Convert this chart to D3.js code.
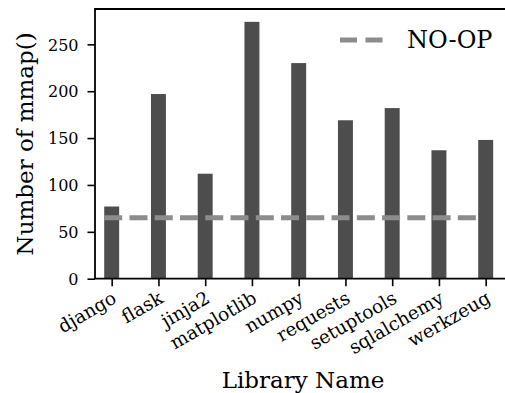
<!DOCTYPE html>
<html>
<head>
<meta charset="utf-8">
<script src="https://cdn.jsdelivr.net/npm/d3@7"></script>
<style>
  html, body { margin: 0; padding: 0; background: #fff; }
  svg { display: block; font-family: "DejaVu Serif", serif; }
</style>
</head>
<body>
<svg id="chart" width="505" height="393"></svg>
<script>
// Library names and mmap() call counts
const libraries = ["django", "flask", "jinja2", "matplotlib", "numpy", "requests", "setuptools", "sqlalchemy", "werkzeug"];
const mmapCounts = [77, 197, 112, 274, 230, 169, 182, 137, 148];
const noopBaseline = 65;
const yTicks = [0, 50, 100, 150, 200, 250];
const legendLabel = "NO-OP";

const svg = d3.select("#chart");
const plotLeft = 95, plotTop = 9, plotBottom = 278.7, plotRight = 520;

const x = d3.scaleLinear().domain([-0.357, 8.734]).range([plotLeft, plotRight]);
const y = d3.scaleLinear().domain([0, 287.7]).range([plotBottom, plotTop]);
const barWidth = x(0.32) - x(0);

// bars
svg.append("g").selectAll("rect")
  .data(mmapCounts)
  .join("rect")
  .attr("x", (d, i) => x(i) - barWidth / 2)
  .attr("y", d => y(d))
  .attr("width", barWidth)
  .attr("height", d => y(0) - y(d))
  .attr("fill", "#4d4d4d");

// NO-OP reference line
svg.append("line")
  .attr("x1", x(-0.16)).attr("x2", x(7.79))
  .attr("y1", y(noopBaseline)).attr("y2", y(noopBaseline))
  .attr("stroke", "#8c8c8c")
  .attr("stroke-width", 5)
  .attr("stroke-dasharray", "18,7.26");

// y axis
const yAxis = svg.append("g")
  .attr("transform", `translate(${plotLeft},0)`)
  .call(d3.axisLeft(y).tickValues(yTicks).tickSize(7.5).tickPadding(9));
yAxis.select(".domain").remove();
yAxis.selectAll(".tick line").attr("stroke", "#000").attr("stroke-width", 1.6);
yAxis.selectAll(".tick text")
  .attr("font-size", 16).attr("font-family", "DejaVu Serif").attr("fill", "#000")
  .attr("dy", "0.36em");

// x axis, labels rotated and right-aligned on their ticks
const xAxis = svg.append("g")
  .attr("transform", `translate(0,${plotBottom})`)
  .call(d3.axisBottom(x).tickValues(d3.range(libraries.length)).tickFormat(i => libraries[i]).tickSize(7.5));
xAxis.select(".domain").remove();
xAxis.selectAll(".tick line").attr("stroke", "#000").attr("stroke-width", 1.6);
xAxis.selectAll(".tick text")
  .attr("font-size", 18.5).attr("font-family", "DejaVu Serif").attr("fill", "#000")
  .attr("text-anchor", "end")
  .attr("dy", null)
  .attr("y", 0)
  .attr("transform", "translate(5.5,23) rotate(-30)");

// spines: left, top, bottom
svg.append("path")
  .attr("d", `M${plotRight},${plotTop}H${plotLeft}V${plotBottom}H${plotRight}`)
  .attr("fill", "none").attr("stroke", "#000").attr("stroke-width", 1.8);

// axis titles
svg.append("text")
  .attr("x", 303).attr("y", 387.5)
  .attr("text-anchor", "middle")
  .attr("font-size", 23)
  .text("Library Name");

svg.append("text")
  .attr("transform", `translate(33,${(plotTop + plotBottom) / 2}) rotate(-90)`)
  .attr("text-anchor", "middle")
  .attr("font-size", 23)
  .text("Number of mmap()");

// legend
const lg = svg.append("g").attr("transform", "translate(340,40)");
lg.append("line")
  .attr("x1", 0).attr("x2", 43).attr("y1", 0).attr("y2", 0)
  .attr("stroke", "#8c8c8c").attr("stroke-width", 5)
  .attr("stroke-dasharray", "17,8.5");
lg.append("text")
  .attr("x", 67).attr("y", 8.3)
  .attr("font-size", 24)
  .text(legendLabel);
</script>
</body>
</html>
